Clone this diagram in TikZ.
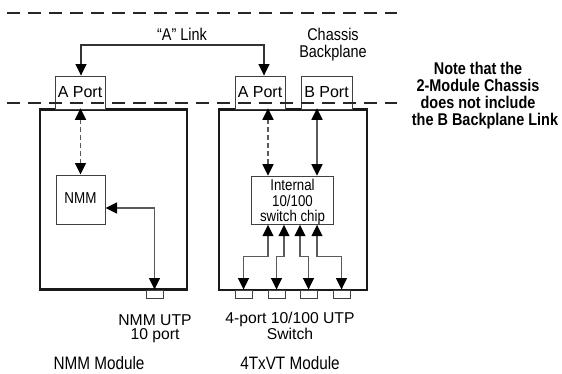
\documentclass[tikz,border=0pt]{standalone}
\usepackage{fontspec}
\setmainfont{Liberation Sans}[FakeStretch=0.85]
\newfontfamily\plainsans{Liberation Sans}
\usetikzlibrary{arrows.meta}
\definecolor{lgray}{HTML}{5A5A5A}
\tikzset{
  conn/.style={draw=lgray,line width=1.3pt,{Triangle[length=11.5pt,width=11pt,color=black]}-{Triangle[length=11.5pt,width=11pt,color=black]}},
  dconn/.style={conn,dash pattern=on 5pt off 3pt},
  backplane/.style={draw=black!85,line width=2.4pt,dash pattern=on 13pt off 8pt},
  module/.style={draw=black!90,line width=2.5pt,inner sep=0pt,minimum width=#1},
  portbox/.style={draw=black!75,line width=0.9pt,fill=white,inner sep=0pt,minimum width=50pt,minimum height=33pt},
  jack/.style={draw=black!75,line width=0.9pt,fill=white,inner sep=0pt,minimum width=17pt,minimum height=8pt},
  innerbox/.style={draw=black!75,line width=1pt,inner sep=0pt},
  txt/.style={inner sep=0pt,anchor=base,align=center},
}
\begin{document}
\begin{tikzpicture}[x=1pt,y=-1pt]
\useasboundingbox (0,0) rectangle (562,373);
% modules
\node[module=147pt,minimum height=180pt] (mod1) at (113.5,199.5) {};
\node[module=148pt,minimum height=180.5pt] (mod2) at (293,199.75) {};
% ports on backplane
\node[portbox] (pA1) at (80,92.5) {};
\node[portbox] (pA2) at (260,92.5) {};
\node[portbox,minimum width=51pt] (pB) at (326.5,92.5) {};
\node[txt,font=\plainsans\fontsize{16}{16}\selectfont] at (80,97.3) {A Port};
\node[txt,font=\plainsans\fontsize{16}{16}\selectfont] at (260,97.3) {A Port};
\node[txt,font=\plainsans\fontsize{16}{16}\selectfont] at (326.5,97.3) {B Port};
% backplane dashed lines
\coordinate (bl1) at (7,13); \coordinate (br1) at (397,13);
\coordinate (bl2) at (7,103); \coordinate (br2) at (397,103);
\draw[backplane] (bl1) -- (br1);
\draw[backplane] (bl2) -- (br2);
% inner boxes
\node[innerbox,minimum width=49pt,minimum height=49pt] (nmm) at (80.5,199.5) {};
\node[txt,font=\fontsize{15.8}{15.8}\selectfont] at (80.5,203.3) {NMM};
\node[innerbox,minimum width=82pt,minimum height=48pt] (chip) at (292.5,200.2) {};
\node[txt,font=\fontsize{15.6}{15.5}\selectfont] at (292.5,221.7) {Internal\\10/100\\switch chip};
% jacks
\node[jack] (u1) at (154.5,294) {};
\node[jack] (j1) at (243.5,294) {};
\node[jack] (j2) at (276.5,294) {};
\node[jack] (j3) at (308.5,294) {};
\node[jack] (j4) at (341.5,294) {};
% "A" link
\coordinate (lk) at (0,45);
\coordinate (la) at ([xshift=1pt]pA1.north);
\coordinate (lb) at ([xshift=4pt]pA2.north);
\draw[conn,draw=black!80] (la) -- (la |- lk) -- (lb |- lk) -- (lb);
\node[txt,font=\fontsize{17}{17}\selectfont] at (182,40) {“A” Link};
\node[txt,font=\fontsize{17}{16.5}\selectfont] at (333,57) {Chassis\\Backplane};
% NMM module connectors
\draw[dconn] (nmm.north |- mod1.north) -- (nmm.north);
\draw[conn] ([yshift=-8.5pt]nmm.east) -| (u1.north);
% 4TxVT module connectors
\coordinate (c1) at ([xshift=-24.5pt]chip.north);
\coordinate (c2) at ([xshift=24.5pt]chip.north);
\draw[dconn] (c1 |- mod2.north) -- (c1);
\draw[conn] (c2 |- mod2.north) -- (c2);
\draw[conn] ([xshift=-24.5pt]chip.south) -- ++(0,32) -| (j1.north);
\draw[conn] ([xshift=-8.5pt]chip.south) -- ++(0,32) -| (j2.north);
\draw[conn] ([xshift=7.5pt]chip.south) -- ++(0,32) -| (j3.north);
\draw[conn] ([xshift=24.5pt]chip.south) -- ++(0,32) -| (j4.north);
% labels
\node[txt,font=\plainsans\fontsize{15.7}{14.2}\selectfont] at (155,339.3) {NMM UTP\\10 port};
\node[txt,font=\plainsans\fontsize{15.7}{14.2}\selectfont] at (290,339.3) {4-port 10/100 UTP\\Switch};
\node[txt,font=\fontsize{18}{18}\selectfont] at (99,369.5) {NMM Module};
\node[txt,font=\fontsize{18}{18}\selectfont] at (290,369.5) {4TxVT Module};
\node[txt,font=\bfseries\fontsize{17}{16.7}\selectfont] at (478,125) {Note that the\\2-Module Chassis\\does not include\\\hspace*{14pt}the B Backplane Link};
\end{tikzpicture}
\end{document}
